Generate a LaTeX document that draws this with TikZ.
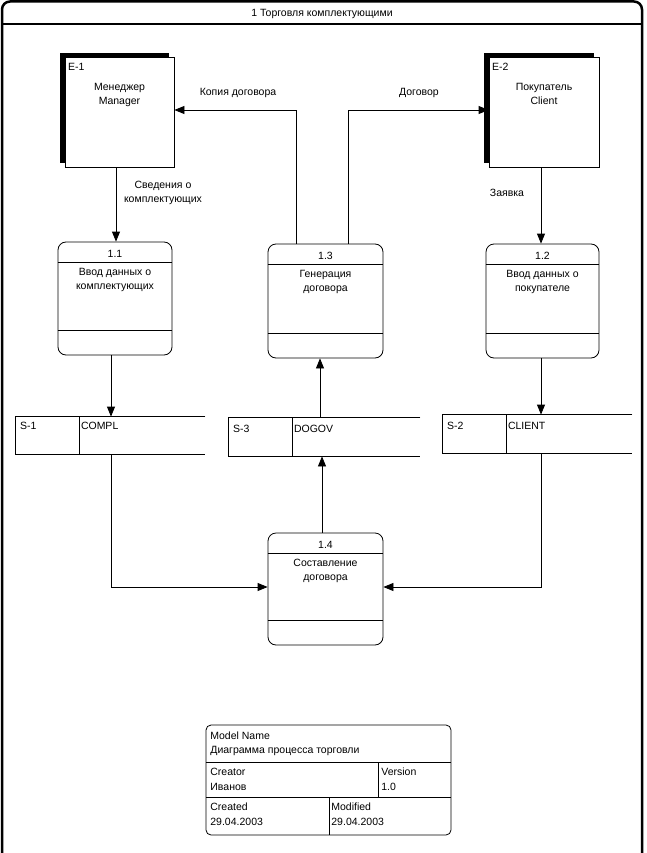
\documentclass[tikz,border=0pt]{standalone}
\usepackage{fontspec}
\setmainfont{Liberation Sans}
\usetikzlibrary{shapes,arrows.meta,shadows}

\tikzset{
  entity/.style={draw,fill=white,rectangle,minimum width=109pt,minimum height=110pt,inner sep=0pt,
    general shadow={shadow xshift=-5pt,shadow yshift=4pt,fill=black}},
  process/.style={draw,rectangle,rounded corners=8pt,minimum width=114pt,minimum height=113pt,inner sep=0pt},
  store/.style={rectangle,minimum width=189pt,minimum height=37pt,inner sep=0pt},
  flow/.style={-{Triangle[length=10pt,width=8pt]}},
  txt/.style={font=\fontsize{10.5}{14}\selectfont,inner sep=1pt,align=center},
  frame/.style={line width=2.5pt,rounded corners=8pt}
}

\begin{document}
\begin{tikzpicture}[x=1pt,y=-1pt,line width=0.8pt]
\useasboundingbox (0,0) rectangle (646,853);

% frame and title
\draw[frame] (2,853) -- (2,1.5) -- (642,1.5) -- (642,853);
\draw[line width=2.5pt] (2,24) -- (642,24);
\node[name=Title,txt] at (322,14) {1 Торговля комплектующими};

% external entities
\node[name=E-1,entity] at (119.5,112) {};
\node[txt,anchor=north west] at ([shift={(2pt,-5pt)}]E-1.north west) {E-1};
\node[txt,anchor=north] at ([yshift=-25pt]E-1.north) {Менеджер\\Manager};

\node[name=E-2,entity,minimum width=110pt] at (544,112) {};
\node[txt,anchor=north west] at ([shift={(2pt,-5pt)}]E-2.north west) {E-2};
\node[txt,anchor=north] at ([yshift=-25pt]E-2.north) {Покупатель\\Client};

% processes
\node[name=Process-1-1,process] at (115,298.5) {};
\node[name=Process-1-3,process,minimum width=115pt,minimum height=114pt] at (325.5,301) {};
\node[name=Process-1-2,process,minimum width=113pt,minimum height=114pt] at (542.5,301) {};
\node[name=Process-1-4,process,minimum width=115pt,minimum height=112pt] at (325.5,589) {};

\foreach \p in {Process-1-1,Process-1-2,Process-1-3,Process-1-4} {
  \draw ([yshift=-21pt]\p.north west) -- ([yshift=-21pt]\p.north east);
  \draw ([yshift=25pt]\p.south west) -- ([yshift=25pt]\p.south east);
}

\node[txt] at ([yshift=-12pt]Process-1-1.north) {1.1};
\node[txt,anchor=north] at ([yshift=-25pt]Process-1-1.north) {Ввод данных о\\комплектующих};
\node[txt] at ([yshift=-12pt]Process-1-3.north) {1.3};
\node[txt,anchor=north] at ([yshift=-25pt]Process-1-3.north) {Генерация\\договора};
\node[txt] at ([yshift=-12pt]Process-1-2.north) {1.2};
\node[txt,anchor=north] at ([yshift=-25pt]Process-1-2.north) {Ввод данных о\\покупателе};
\node[txt] at ([yshift=-12pt]Process-1-4.north) {1.4};
\node[txt,anchor=north] at ([yshift=-25pt]Process-1-4.north) {Составление\\договора};

% data stores
\node[name=Store-S-1,store] at (110.5,435.5) {};
\node[name=Store-S-3,store,minimum width=191pt,minimum height=38pt] at (324.5,437) {};
\node[name=Store-S-2,store,minimum height=38pt] at (537.5,434) {};

\foreach \s in {Store-S-1,Store-S-2,Store-S-3} {
  \draw (\s.north east) -- (\s.north west) -- (\s.south west) -- (\s.south east);
  \draw ([xshift=64pt]\s.north west) -- ([xshift=64pt]\s.south west);
}

\node[txt,anchor=west] at ([shift={(3pt,-9pt)}]Store-S-1.north west) {S-1};
\node[txt,anchor=west] at ([shift={(64pt,-9pt)}]Store-S-1.north west) {COMPL};
\node[txt,anchor=west] at ([shift={(3pt,-11pt)}]Store-S-3.north west) {S-3};
\node[txt,anchor=west] at ([shift={(64pt,-11pt)}]Store-S-3.north west) {DOGOV};
\node[txt,anchor=west] at ([shift={(3pt,-11pt)}]Store-S-2.north west) {S-2};
\node[txt,anchor=west] at ([shift={(64pt,-11pt)}]Store-S-2.north west) {CLIENT};

% data flows
\draw[flow] ([xshift=-3.5pt]E-1.south) -- ([xshift=-3.5pt]E-1.south |- Process-1-1.north);
\node[txt] at (163,193) {Сведения о\\комплектующих};

\draw[flow] ([xshift=-4pt]Process-1-1.south) -- ([xshift=-4pt]Process-1-1.south |- Store-S-1.north);
\draw[flow] ([xshift=-1.5pt]Process-1-2.south) -- ([xshift=-1.5pt]Process-1-2.south |- Store-S-2.north);

\draw[flow] ([xshift=0.5pt]Store-S-1.south) |- ([yshift=2pt]Process-1-4.west);
\draw[flow] ([xshift=3.5pt]Store-S-2.south) |- ([yshift=2pt]Process-1-4.east);

\draw[flow] ([xshift=-3.5pt]Process-1-4.north) -- ([xshift=-3.5pt]Process-1-4.north |- Store-S-3.south);
\draw[flow] ([xshift=-4.5pt]Store-S-3.north) -- ([xshift=-4.5pt]Store-S-3.north |- Process-1-3.south);

\draw[flow] ([xshift=-29.5pt]Process-1-3.north) |- ([yshift=2pt]E-1.east);
\node[txt] at (238,93) {Копия договора};

\draw[flow] ([xshift=22.5pt]Process-1-3.north) |- ([yshift=2pt]E-2.west);
\node[txt] at (419,93) {Договор};

\draw[flow] ([xshift=-3pt]E-2.south) -- ([xshift=-3pt]E-2.south |- Process-1-2.north);
\node[txt] at (507,193) {Заявка};

% model info block
\draw[rounded corners=5pt] (206,725) rectangle (451,835);
\draw (206,762) -- (451,762);
\draw (206,797) -- (451,797);
\draw (378,762) -- (378,797);
\draw (329,797) -- (329,835);
\node[txt,anchor=west] at (209,736) {Model Name};
\node[txt,anchor=west] at (209,751) {Диаграмма процесса торговли};
\node[txt,anchor=west] at (209,772) {Creator};
\node[txt,anchor=west] at (209,787) {Иванов};
\node[txt,anchor=west] at (380,772) {Version};
\node[txt,anchor=west] at (380,787) {1.0};
\node[txt,anchor=west] at (209,807) {Created};
\node[txt,anchor=west] at (209,822) {29.04.2003};
\node[txt,anchor=west] at (330,807) {Modified};
\node[txt,anchor=west] at (330,822) {29.04.2003};
\end{tikzpicture}
\end{document}
